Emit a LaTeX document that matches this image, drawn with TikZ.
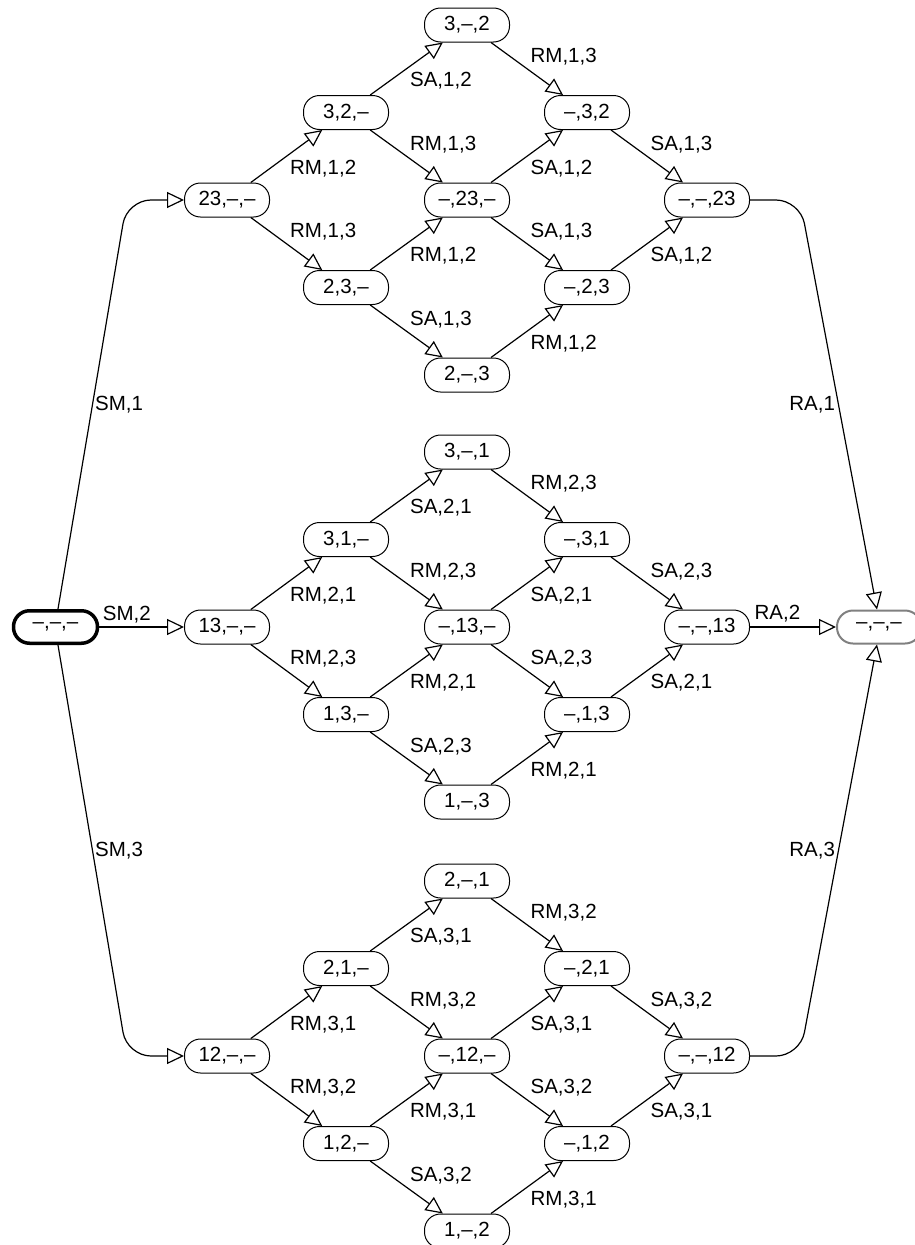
\documentclass[tikz,border=0pt]{standalone}
\usepackage{fontspec}
\setmainfont{Liberation Sans}
\usetikzlibrary{arrows.meta}
\newcommand{\DSH}{\textendash}
\begin{document}
\begin{tikzpicture}[x=1pt,y=-1pt,
  font=\fontsize{20.5}{24}\selectfont,
  st/.style={draw, rectangle, rounded corners=16pt, minimum width=85pt,
    minimum height=34pt, inner sep=0pt, line width=1pt},
  edge/.style={draw, line width=1.2pt, rounded corners=24pt,
    -{Triangle[open, length=17pt, width=16pt]}},
  lu/.style={anchor=north west, inner sep=3pt},
  ld/.style={anchor=south west, inner sep=3pt}]
\useasboundingbox (0,0) rectangle (914,1245);
\foreach \g/\yc/\k/\p/\q in {t/200/1/2/3, m/627/2/1/3, b/1056/3/1/2}{
  \node[st] (\g A) at (227,\yc) {\p\q,\DSH,\DSH};
  \node[st] (\g B1) at (346,{\yc-87.5}) {\q,\p,\DSH};
  \node[st] (\g B2) at (346,{\yc+87.5}) {\p,\q,\DSH};
  \node[st] (\g C0) at (467,{\yc-175}) {\q,\DSH,\p};
  \node[st] (\g C1) at (467,\yc) {\DSH,\p\q,\DSH};
  \node[st] (\g C2) at (467,{\yc+175}) {\p,\DSH,\q};
  \node[st] (\g D1) at (587,{\yc-87.5}) {\DSH,\q,\p};
  \node[st] (\g D2) at (587,{\yc+87.5}) {\DSH,\p,\q};
  \node[st] (\g E) at (707,\yc) {\DSH,\DSH,\p\q};
  \draw[edge] (\g A) -- node[lu]{RM,\k,\p} (\g B1);
  \draw[edge] (\g A) -- node[ld]{RM,\k,\q} (\g B2);
  \draw[edge] (\g B1) -- node[lu]{SA,\k,\p} (\g C0);
  \draw[edge] (\g B1) -- node[ld]{RM,\k,\q} (\g C1);
  \draw[edge] (\g B2) -- node[lu]{RM,\k,\p} (\g C1);
  \draw[edge] (\g B2) -- node[ld]{SA,\k,\q} (\g C2);
  \draw[edge] (\g C0) -- node[ld]{RM,\k,\q} (\g D1);
  \draw[edge] (\g C1) -- node[lu]{SA,\k,\p} (\g D1);
  \draw[edge] (\g C1) -- node[ld]{SA,\k,\q} (\g D2);
  \draw[edge] (\g C2) -- node[lu]{RM,\k,\p} (\g D2);
  \draw[edge] (\g D1) -- node[ld]{SA,\k,\q} (\g E);
  \draw[edge] (\g D2) -- node[lu]{SA,\k,\p} (\g E);
}
\node[st, line width=3.5pt, minimum width=84pt, minimum height=32.5pt] (s) at (55.5,627) {\DSH,\DSH,\DSH};
\node[st, draw=black!50, line width=2pt, minimum width=84pt, minimum height=33pt] (f) at (879,627) {\DSH,\DSH,\DSH};
\coordinate (c1) at (127,200);
\coordinate (c3) at (127,1056);
\coordinate (r1) at (800,200);
\coordinate (r3) at (800,1056);
\draw[edge] ([xshift=2.5pt]s.north) -- node[anchor=west, inner sep=2pt]{SM,1} (c1) -- (tA);
\draw[edge] (s) -- node[pos=0, anchor=south west, inner sep=3pt]{SM,2} (mA);
\draw[edge] ([xshift=2.5pt]s.south) -- node[anchor=west, inner sep=2pt]{SM,3} (c3) -- (bA);
\draw[edge] (tE) -- (r1) -- node[anchor=east, inner sep=3pt]{RA,1} ([xshift=-2pt]f.north);
\draw[edge] (mE) -- node[pos=0, anchor=south west, inner sep=4pt]{RA,2} (f);
\draw[edge] (bE) -- (r3) -- node[anchor=east, inner sep=3pt]{RA,3} ([xshift=-2pt]f.south);
\end{tikzpicture}
\end{document}
